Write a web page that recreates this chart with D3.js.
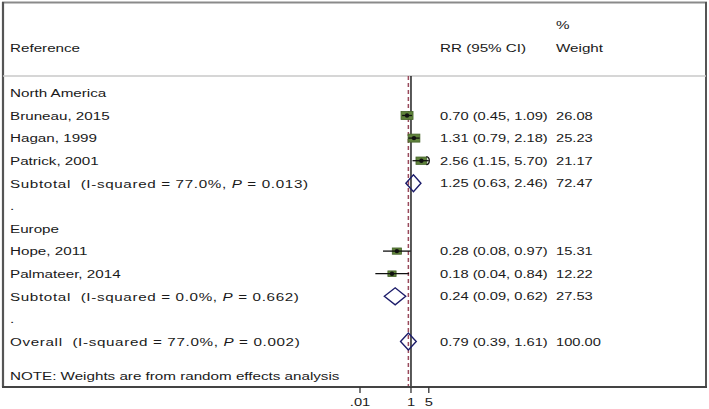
<!DOCTYPE html>
<html>
<head>
<meta charset="utf-8">
<script src="https://cdn.jsdelivr.net/npm/d3@7"></script>
<style>
  html, body { margin: 0; padding: 0; background: #fff; }
  svg { display: block; }
  text { font-family: "Liberation Sans", Arial, sans-serif; fill: #1a1a1a; white-space: pre; }
</style>
</head>
<body>
<svg id="chart" width="709" height="409"></svg>
<script>
// ---- data ----
const rowLabels = ["North America", "Bruneau, 2015", "Hagan, 1999", "Patrick, 2001",
  "Subtotal|77.0%|0.013", ".", "Europe", "Hope, 2011", "Palmateer, 2014",
  "Subtotal|0.0%|0.662", ".", "Overall|77.0%|0.002"];
const rowTypes = ["group", "study", "study", "study", "subtotal", "blank",
  "group", "study", "study", "subtotal", "blank", "overall"];
const rr     = [null, 0.70, 1.31, 2.56, 1.25, null, null, 0.28, 0.18, 0.24, null, 0.79];
const ciLow  = [null, 0.45, 0.79, 1.15, 0.63, null, null, 0.08, 0.04, 0.09, null, 0.39];
const ciHigh = [null, 1.09, 2.18, 5.70, 2.46, null, null, 0.97, 0.84, 0.62, null, 1.61];
const weights = [null, 26.08, 25.23, 21.17, 72.47, null, null, 15.31, 12.22, 27.53, null, 100.00];
const tickValues = [0.01, 1, 5];
const tickLabels = [".01", "1", "5"];
const overallRR = 0.79;
const noteText = "NOTE: Weights are from random effects analysis";

// ---- layout ----
const svg = d3.select("#chart");
const SX = 1.3;          // horizontal stretch of the reference
const FS = 11.7;         // label font
const FSN = 11.3;        // numeric columns font
const axisY = 387, sepY = 76;

const x = d3.scaleLog().domain([0.01, 5]).range([360, 428.8]);
const y = d3.scaleLinear().domain([0, 1]).range([92.9, 115.5]);
const boxW = d3.scaleSqrt().domain([0, 26.08]).range([0, 12]);

function txt(g, tx, ty, anchor, fs) {
  return g.append("text")
    .attr("transform", `translate(${tx},${ty}) scale(${SX},1)`)
    .attr("font-size", fs || FS)
    .attr("dy", "0.36em")
    .attr("text-anchor", anchor || "start");
}

// frame
svg.append("line").attr("x1", 2).attr("x2", 707).attr("y1", 2.5).attr("y2", 2.5)
  .attr("stroke", "#8a8a8a").attr("stroke-width", 1.8);
svg.append("line").attr("x1", 3).attr("x2", 3).attr("y1", 2).attr("y2", axisY)
  .attr("stroke", "#555").attr("stroke-width", 2.2);
svg.append("line").attr("x1", 706).attr("x2", 706).attr("y1", 2).attr("y2", axisY)
  .attr("stroke", "#555").attr("stroke-width", 2);
svg.append("line").attr("x1", 3).attr("x2", 706).attr("y1", sepY).attr("y2", sepY)
  .attr("stroke", "#c8c8c8").attr("stroke-width", 1.5);

// header
const gH = svg.append("g");
txt(gH, 10, y(-2)).text("Reference");
txt(gH, 440, y(-2)).text("RR (95% CI)");
txt(gH, 556, y(-3)).text("%");
txt(gH, 556, y(-2)).text("Weight");

// reference lines
svg.append("line").attr("x1", x(1)).attr("x2", x(1)).attr("y1", sepY).attr("y2", axisY)
  .attr("stroke", "#111").attr("stroke-width", 1.4);
svg.append("line").attr("x1", x(overallRR)).attr("x2", x(overallRR)).attr("y1", sepY).attr("y2", axisY)
  .attr("stroke", "#9a4a5c").attr("stroke-width", 1.5).attr("stroke-dasharray", "4,3");

// rows
const gR = svg.append("g");
const fmt = d3.format(".2f");
rowLabels.forEach((lab, i) => {
  const yy = y(i);
  const t = rowTypes[i];
  if (t === "subtotal" || t === "overall") {
    const parts = lab.split("|");
    const tt = txt(gR, 10, yy).attr("letter-spacing", 0.5);
    tt.append("tspan").text(parts[0] + "  (I-squared = " + parts[1] + ", ");
    tt.append("tspan").attr("font-style", "italic").text("P");
    tt.append("tspan").text(" = " + parts[2] + ")");
  } else {
    txt(gR, 10, yy).text(lab);
  }
  if (rr[i] != null) {
    txt(gR, 440, yy, "start", FSN).text(`${fmt(rr[i])} (${fmt(ciLow[i])}, ${fmt(ciHigh[i])})`);
    txt(gR, 556, yy, "start", FSN).text(fmt(weights[i]));
  }
  if (t === "study") {
    const maxV = x.domain()[1];
    const xl = x(Math.max(ciLow[i], x.domain()[0]));
    const xh = x(Math.min(ciHigh[i], maxV));
    const w = boxW(weights[i]), h = w * 0.68;
    gR.append("rect").attr("x", x(rr[i]) - w / 2).attr("y", yy - h / 2)
      .attr("width", w).attr("height", h)
      .attr("fill", "#5f823b").attr("stroke", "#46652a").attr("stroke-width", 0.8);
    gR.append("line").attr("x1", xl).attr("x2", xh).attr("y1", yy).attr("y2", yy)
      .attr("stroke", "#111").attr("stroke-width", 1.3);
    gR.append("circle").attr("cx", x(rr[i])).attr("cy", yy).attr("r", 2.2).attr("fill", "#111");
    if (ciHigh[i] > maxV) {
      gR.append("path")
        .attr("d", `M${xh - 2.5},${yy - 4} Q${xh + 0.5},${yy - 3.5} ${xh + 0.5},${yy} Q${xh + 0.5},${yy + 3.5} ${xh - 2.5},${yy + 4}`)
        .attr("fill", "none").attr("stroke", "#111").attr("stroke-width", 1.3);
    }
  }
  if (t === "subtotal" || t === "overall") {
    const hd = 8.5;
    const pts = [[x(ciLow[i]), yy], [x(rr[i]), yy - hd], [x(ciHigh[i]), yy], [x(rr[i]), yy + hd]];
    gR.append("path").attr("d", "M" + pts.map(p => p.join(",")).join("L") + "Z")
      .attr("fill", "none").attr("stroke", "#1c1c6a").attr("stroke-width", 1.4);
  }
});

// note
txt(gR, 10, y(12.5)).text(noteText);

// axis (bottom frame)
svg.append("line").attr("x1", 2).attr("x2", 707).attr("y1", axisY).attr("y2", axisY)
  .attr("stroke", "#444").attr("stroke-width", 2);
const gA = svg.append("g");
tickValues.forEach((v, k) => {
  gA.append("line").attr("x1", x(v)).attr("x2", x(v)).attr("y1", axisY).attr("y2", axisY + 6)
    .attr("stroke", "#333").attr("stroke-width", 1.3);
  txt(gA, x(v), axisY + 15, "middle", FSN).text(tickLabels[k]);
});
</script>
</body>
</html>
